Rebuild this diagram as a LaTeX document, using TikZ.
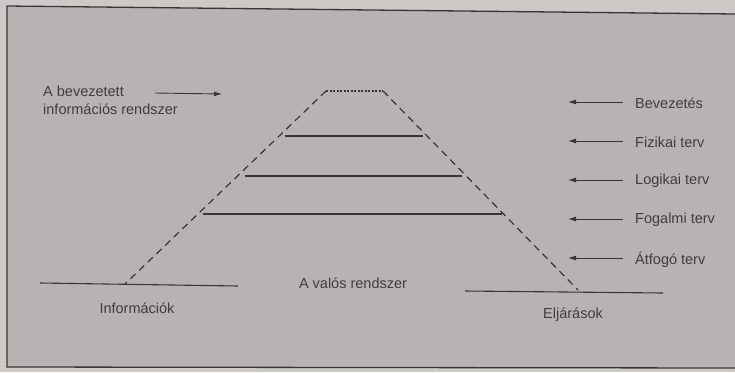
\documentclass[tikz,border=0pt]{standalone}
\usepackage{fontspec}
\setmainfont{Liberation Sans}
\usetikzlibrary{arrows.meta}
\definecolor{paper}{RGB}{184,179,178}
\definecolor{paperout}{RGB}{205,201,199}
\definecolor{ink}{RGB}{58,52,56}
\definecolor{txt}{RGB}{66,60,62}
\tikzset{
  lbl/.style={font=\fontsize{14.5}{18}\selectfont, text=txt, inner sep=0pt},
  lvl/.style={draw=ink, line width=1.1pt},
  leg/.style={draw=ink, line width=1.2pt, dash pattern=on 7pt off 5pt},
  ptr/.style={draw=ink, line width=0.9pt, -{Latex[length=8pt,width=5pt]}},
}
\begin{document}
\begin{tikzpicture}[x=1pt,y=-1pt]
\useasboundingbox (0,0) rectangle (735,372);
\fill[paperout] (0,0) rectangle (735,372);
\fill[paper] (7,6) -- (735,14) -- (735,368) -- (7,367) -- cycle;
\draw[ink, line width=1.3pt] (735,14) -- (7,6) -- (7,367) -- (735,368);
% trapezoid
\coordinate (tl) at (326,91);
\coordinate (tr) at (383,91);
\coordinate (bl) at (125,284);
\coordinate (br) at (578,290);
\draw[ink, line width=1.2pt, dash pattern=on 2pt off 1.5pt] (tl) -- (tr);
\draw[leg] (tl) -- (bl);
\draw[leg] (tr) -- (br);
% levels
\coordinate (f1) at (285,136); \coordinate (f2) at (423,136);
\coordinate (l1) at (245,176); \coordinate (l2) at (462,176);
\coordinate (g1) at (203,214); \coordinate (g2) at (502,214);
\draw[lvl] (f1) -- (f2);
\draw[lvl] (l1) -- (l2);
\draw[lvl] (g1) -- (g2);
% base lines
\coordinate (ia) at (40,283); \coordinate (ib) at (238,286);
\coordinate (ea) at (465,291); \coordinate (eb) at (663,293);
\draw[lvl] (ia) -- (ib);
\draw[lvl] (ea) -- (eb);
% left label
\node[lbl, anchor=west, align=left] (bev) at (43,100) {A bevezetett\\információs rendszer};
\coordinate (bevA) at (155,93);
\coordinate (bevB) at (222,94);
\draw[ptr] (bevA) -- (bevB);
% right labels
\node[lbl, anchor=west] (r1) at (635,103) {Bevezetés};
\node[lbl, anchor=west] (r2) at (635,142) {Fizikai terv};
\node[lbl, anchor=west] (r3) at (635,181) {Logikai terv};
\node[lbl, anchor=west] (r4) at (635,220) {Fogalmi terv};
\node[lbl, anchor=west] (r5) at (635,260) {Átfogó terv};
\foreach \n/\y in {r1/102, r2/141, r3/180, r4/219, r5/258}{
  \coordinate (\n s) at (623,\y);
  \coordinate (\n e) at (568,\y);
  \draw[ptr] (\n s) -- (\n e);
}
% bottom labels
\node[lbl] (inf) at (137,308) {Információk};
\node[lbl] (val) at (353,283) {A valós rendszer};
\node[lbl] (elj) at (573,315) {Eljárások};
\end{tikzpicture}
\end{document}
